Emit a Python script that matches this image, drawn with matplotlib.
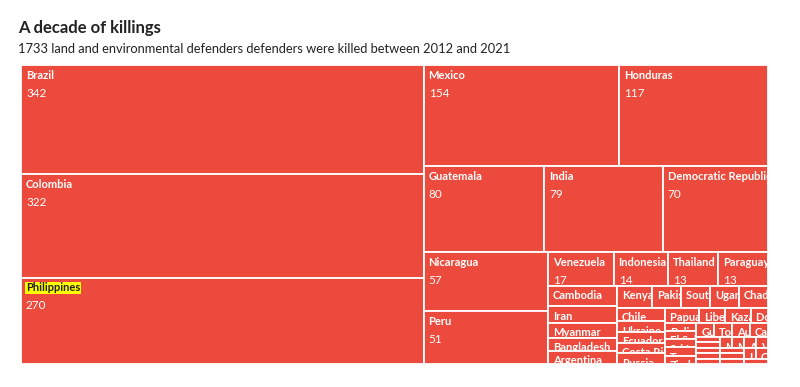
import matplotlib.pyplot as plt
from matplotlib.patches import Rectangle
from matplotlib.transforms import Bbox, TransformedBbox, offset_copy

title = "A decade of killings"
subtitle = "1733 land and environmental defenders defenders were killed between 2012 and 2021"

countries = [
    "Brazil", "Colombia", "Philippines", "Mexico", "Honduras", "Guatemala", "India",
    "Democratic Republic of Congo", "Nicaragua", "Peru", "Venezuela", "Indonesia",
    "Thailand", "Paraguay", "Cambodia", "Iran", "Myanmar", "Bangladesh", "Argentina",
    "Kenya", "Pakistan", "South Africa", "Uganda", "Chad", "Chile", "Ukraine", "Ecuador",
    "Costa Rica", "Russia", "Papua New Guinea", "Liberia", "Kazakhstan", "Dominican Republic",
    "Bolivia", "El Salvador", "Sri Lanka", "Tanzania", "Zimbabwe", "Guinea", "Togo",
    "Australia", "Cameroon", "Haiti", "Ghana", "Kyrgyzstan", "Ethiopia", "Panama",
    "Mozambique", "Malaysia", "Afghanistan", "Vietnam", "Nigeria", "Nepal", "Sudan",
    "Laos", "China", "Spain",
]
killed = [
    342, 322, 270, 154, 117, 80, 79,
    70, 57, 51, 17, 14,
    13, 13, 11, 9, 8, 7, 7,
    6, 5, 5, 5, 5, 5, 4, 4,
    4, 4, 4, 3, 3, 2,
    2, 2, 2, 2, 2, 2, 2,
    2, 2, 1, 1, 1, 1, 1,
    1, 1, 1, 1, 1, 1, 1,
    1, 1, 1,
]
highlight = "Philippines"

TILE = "#ec4a3c"
INK = "#222222"
PHI = (1 + 5 ** 0.5) / 2
H = 0.95  # aspect of the box the layout was computed in


def squarify(values, x0, y0, x1, y1, ratio=PHI):
    # row logic follows d3.treemapSquarify, y grows downwards
    rects = []
    value = float(sum(values))
    i0 = i1 = 0
    n = len(values)
    while i0 < n:
        dx, dy = x1 - x0, y1 - y0
        sum_v = values[i1]
        i1 += 1
        min_v = max_v = sum_v
        alpha = max(dy / dx, dx / dy) / (value * ratio)
        beta = sum_v * sum_v * alpha
        min_ratio = max(max_v / beta, beta / min_v)
        while i1 < n:
            v = values[i1]
            s = sum_v + v
            lo, hi = min(min_v, v), max(max_v, v)
            beta = s * s * alpha
            new_ratio = max(hi / beta, beta / lo)
            if new_ratio > min_ratio:
                break
            sum_v, min_v, max_v, min_ratio = s, lo, hi, new_ratio
            i1 += 1
        row = values[i0:i1]
        if dx < dy:
            yb = y0 + dy * sum_v / value
            xs = x0
            for v in row:
                w = dx * v / sum_v
                rects.append((xs, y0, w, yb - y0))
                xs += w
            y0 = yb
        else:
            xr = x0 + dx * sum_v / value
            ys = y0
            for v in row:
                h = dy * v / sum_v
                rects.append((x0, ys, xr - x0, h))
                ys += h
            x0 = xr
        value -= sum_v
        i0 = i1
    return rects


plt.rcParams["font.family"] = ["Lato", "DejaVu Sans"]

fig = plt.figure(figsize=(8, 3.87), dpi=100)
ax = fig.add_axes([21 / 800, 23 / 387, 747 / 800, 299 / 387])
ax.set_xlim(0, 1)
ax.set_ylim(0, H)
ax.axis("off")

name_tr = offset_copy(ax.transData, fig=fig, x=5, y=-13.5, units="dots")
num_tr = offset_copy(ax.transData, fig=fig, x=5, y=-31.5, units="dots")

for (x, y, w, h), name, val in zip(squarify(killed, 0, 0, 1, H), countries, killed):
    yb = H - y - h  # flip so the first row sits at the top
    rect = Rectangle((x, yb), w, h, facecolor=TILE, edgecolor="white", linewidth=1.3)
    ax.add_patch(rect)
    clip = TransformedBbox(Bbox.from_bounds(x, yb, w, h), ax.transData)
    if name == highlight:
        t1 = ax.text(x, H - y, name, transform=name_tr, fontsize=8, fontweight="bold",
                     color=INK, va="baseline",
                     bbox=dict(boxstyle="square,pad=0.05", fc="#ffff00", ec="none"))
    else:
        t1 = ax.text(x, H - y, name, transform=name_tr, fontsize=8, fontweight="bold",
                     color="white", va="baseline")
    t2 = ax.text(x, H - y, str(val), transform=num_tr, fontsize=8.5, color="white",
                 va="baseline")
    for t in (t1, t2):
        t.set_clip_box(clip)
        t.set_clip_on(True)

fig.text(18 / 800, 1 - 33 / 387, title, fontsize=12, fontweight="bold", color=INK,
         va="baseline")
fig.text(18 / 800, 1 - 53 / 387, subtitle, fontsize=9.3, color=INK, va="baseline")

fig.savefig("out.png", dpi=100)
